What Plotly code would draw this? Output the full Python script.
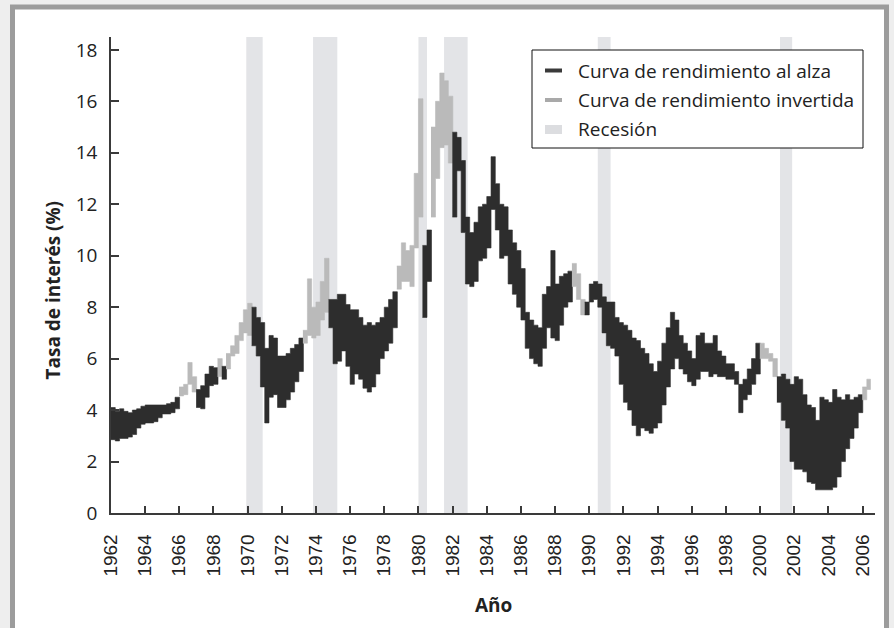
import plotly.graph_objects as go

# Yield-curve band: for each quarter, the upper and lower rate (%) and whether
# the curve was inverted (short rate above long rate) during that quarter.
band_first_year = 1962
band_end = 2006.45

rate_high = [
    4.10, 3.95, 4.05, 3.95,   # 1962
    3.90, 4.00, 4.05, 4.15,   # 1963
    4.20, 4.20, 4.20, 4.20,   # 1964
    4.20, 4.25, 4.30, 4.50,   # 1965
    4.90, 5.00, 5.85, 5.30,   # 1966
    4.80, 4.95, 5.40, 5.70,   # 1967
    5.65, 6.00, 5.70, 6.20,   # 1968
    6.50, 6.90, 7.40, 7.90,   # 1969
    8.15, 8.00, 7.60, 7.40,   # 1970
    6.40, 6.90, 6.80, 6.10,   # 1971
    6.10, 6.20, 6.40, 6.55,   # 1972
    6.80, 7.10, 9.10, 8.00,   # 1973
    8.20, 9.00, 9.90, 8.30,   # 1974
    8.30, 8.50, 8.50, 8.10,   # 1975
    7.90, 7.90, 7.60, 7.30,   # 1976
    7.40, 7.30, 7.40, 7.60,   # 1977
    8.00, 8.30, 8.60, 9.60,   # 1978
    10.50, 10.20, 10.40, 13.20,  # 1979
    16.10, 10.40, 11.00, 15.00,  # 1980
    16.00, 17.10, 16.80, 16.20,  # 1981
    14.80, 14.60, 13.70, 11.50,  # 1982
    10.90, 11.30, 11.90, 12.00,  # 1983
    12.30, 13.85, 12.80, 12.00,  # 1984
    11.90, 11.00, 10.50, 10.20,  # 1985
    9.50, 7.80, 7.50, 7.30,   # 1986
    7.20, 8.50, 8.80, 10.20,  # 1987
    8.90, 9.20, 9.30, 9.40,   # 1988
    9.70, 9.30, 8.30, 8.20,   # 1989
    8.90, 9.00, 8.90, 8.40,   # 1990
    8.20, 8.20, 7.60, 7.40,   # 1991
    7.30, 7.10, 6.80, 6.70,   # 1992
    6.40, 6.20, 5.80, 5.50,   # 1993
    5.90, 6.60, 7.20, 7.80,   # 1994
    7.50, 6.90, 6.60, 6.30,   # 1995
    6.00, 6.90, 7.00, 6.60,   # 1996
    6.60, 6.90, 6.30, 6.10,   # 1997
    5.80, 5.80, 5.50, 5.00,   # 1998
    5.20, 5.60, 6.00, 6.60,   # 1999
    6.60, 6.40, 6.20, 6.00,   # 2000
    5.30, 5.40, 5.20, 5.00,   # 2001
    5.30, 5.20, 4.60, 4.20,   # 2002
    4.10, 3.60, 4.50, 4.40,   # 2003
    4.30, 4.80, 4.50, 4.40,   # 2004
    4.60, 4.40, 4.50, 4.60,   # 2005
    4.90, 5.20,               # 2006
]

rate_low = [
    2.85, 2.80, 2.90, 2.90,   # 1962
    2.95, 3.05, 3.30, 3.45,   # 1963
    3.50, 3.50, 3.55, 3.70,   # 1964
    3.85, 3.85, 3.90, 4.05,   # 1965
    4.55, 4.60, 5.00, 4.70,   # 1966
    4.10, 4.05, 4.50, 4.95,   # 1967
    5.00, 5.30, 5.20, 5.60,   # 1968
    6.10, 6.20, 6.70, 7.00,   # 1969
    6.90, 6.50, 6.10, 4.90,   # 1970
    3.50, 4.50, 4.60, 4.10,   # 1971
    4.10, 4.40, 4.70, 5.10,   # 1972
    5.50, 6.60, 6.90, 6.80,   # 1973
    6.90, 7.50, 7.80, 7.20,   # 1974
    5.80, 5.90, 6.30, 5.70,   # 1975
    5.00, 5.40, 5.20, 4.85,   # 1976
    4.70, 4.90, 5.40, 6.00,   # 1977
    6.30, 6.60, 7.20, 8.70,   # 1978
    9.00, 9.00, 8.80, 10.30,  # 1979
    11.50, 7.60, 9.00, 11.50,  # 1980
    13.00, 14.20, 14.30, 13.60,  # 1981
    11.50, 13.30, 10.90, 8.90,   # 1982
    8.80, 9.00, 9.80, 9.90,   # 1983
    10.30, 11.80, 11.00, 9.90,  # 1984
    10.00, 8.90, 8.50, 8.00,  # 1985
    7.50, 6.40, 6.00, 5.80,   # 1986
    5.70, 6.40, 7.20, 6.80,   # 1987
    6.70, 7.30, 8.00, 8.20,   # 1988
    8.80, 8.30, 7.70, 7.70,   # 1989
    8.20, 8.30, 8.00, 7.00,   # 1990
    6.50, 6.40, 6.10, 5.00,   # 1991
    4.30, 4.00, 3.40, 3.00,   # 1992
    3.30, 3.20, 3.10, 3.30,   # 1993
    3.50, 4.20, 4.90, 5.60,   # 1994
    6.00, 5.60, 5.40, 5.10,   # 1995
    4.95, 5.20, 5.50, 5.50,   # 1996
    5.30, 5.40, 5.30, 5.30,   # 1997
    5.20, 5.20, 5.00, 3.90,   # 1998
    4.40, 4.60, 5.00, 5.40,   # 1999
    6.00, 6.00, 5.90, 5.30,   # 2000
    4.30, 3.60, 3.30, 2.00,   # 2001
    1.70, 1.70, 1.60, 1.20,   # 2002
    1.15, 0.90, 0.90, 0.90,   # 2003
    0.90, 1.00, 1.40, 2.00,   # 2004
    2.50, 2.90, 3.30, 3.90,   # 2005
    4.40, 4.80,               # 2006
]

curve_inverted = [
    0, 0, 0, 0,  # 1962
    0, 0, 0, 0,  # 1963
    0, 0, 0, 0,  # 1964
    0, 0, 0, 0,  # 1965
    1, 1, 1, 1,  # 1966
    0, 0, 0, 0,  # 1967
    0, 1, 0, 1,  # 1968
    1, 1, 1, 1,  # 1969
    1, 0, 0, 0,  # 1970
    0, 0, 0, 0,  # 1971
    0, 0, 0, 0,  # 1972
    0, 1, 1, 1,  # 1973
    1, 1, 1, 0,  # 1974
    0, 0, 0, 0,  # 1975
    0, 0, 0, 0,  # 1976
    0, 0, 0, 0,  # 1977
    0, 0, 0, 1,  # 1978
    1, 1, 1, 1,  # 1979
    1, 0, 0, 1,  # 1980
    1, 1, 1, 1,  # 1981
    0, 0, 0, 0,  # 1982
    0, 0, 0, 0,  # 1983
    0, 0, 0, 0,  # 1984
    0, 0, 0, 0,  # 1985
    0, 0, 0, 0,  # 1986
    0, 0, 0, 0,  # 1987
    0, 0, 0, 0,  # 1988
    1, 1, 1, 0,  # 1989
    0, 0, 0, 0,  # 1990
    0, 0, 0, 0,  # 1991
    0, 0, 0, 0,  # 1992
    0, 0, 0, 0,  # 1993
    0, 0, 0, 0,  # 1994
    0, 0, 0, 0,  # 1995
    0, 0, 0, 0,  # 1996
    0, 0, 0, 0,  # 1997
    0, 0, 0, 0,  # 1998
    0, 0, 0, 0,  # 1999
    1, 1, 1, 1,  # 2000
    0, 0, 0, 0,  # 2001
    0, 0, 0, 0,  # 2002
    0, 0, 0, 0,  # 2003
    0, 0, 0, 0,  # 2004
    0, 0, 0, 0,  # 2005
    1, 1,        # 2006
]

# NBER recessions (decimal years)
recession_start = [1969.92, 1973.83, 1980.00, 1981.50, 1990.50, 2001.17]
recession_end = [1970.88, 1975.25, 1980.50, 1982.88, 1991.25, 2001.88]

year_ticks = list(range(1962, 2007, 2))
rate_ticks = list(range(0, 19, 2))
x_range = [1962, 2006.73]
y_range = [0, 18.5]

legend_labels = ["Curva de rendimiento al alza",
                 "Curva de rendimiento invertida",
                 "Recesión"]
x_title = "Año"
y_title = "Tasa de interés (%)"

# ---- colours / fonts ----
DARK = "#2d2d2d"
LIGHT = "#bababa"
SHADE = "#e3e4e7"
TEXT = "#222222"
AXIS = "#3a3a3a"
SANS = "Open Sans, Lato, sans-serif"
TICK_SANS = "Liberation Sans, Arial, sans-serif"

W, H = 894, 628
ML, MR, MT, MB = 111, 19, 37, 115


def fx(px):
    return (px - ML) / (W - ML - MR)


def fy(py):
    return (H - MB - py) / (H - MT - MB)


# quarter boundaries of the band
n = len(rate_high)
starts = [band_first_year + i / 4 for i in range(n)]
ends = starts[1:] + [band_end]

# split the band into runs of equal slope sign; each run becomes one
# stepped polygon (top edge left→right, bottom edge right→left)
runs = []
i = 0
while i < n:
    j = i
    while j + 1 < n and curve_inverted[j + 1] == curve_inverted[i]:
        j += 1
    runs.append((i, j, curve_inverted[i]))
    i = j + 1

fig = go.Figure()

# recession shading
fig.add_trace(go.Bar(
    x=[(a + b) / 2 for a, b in zip(recession_start, recession_end)],
    y=[y_range[1]] * len(recession_start),
    base=0,
    width=[b - a for a, b in zip(recession_start, recession_end)],
    marker=dict(color=SHADE, line=dict(width=0)),
    name=legend_labels[2], showlegend=False, hoverinfo="skip",
))

pad = 0.015
for a, b, inv in runs:
    xs, ys = [], []
    for k in range(a, b + 1):
        s = starts[k] - (pad if k == a else 0)
        e = ends[k] + (pad if k == b else 0)
        xs += [s, e]
        ys += [rate_high[k], rate_high[k]]
    for k in range(b, a - 1, -1):
        s = starts[k] - (pad if k == a else 0)
        e = ends[k] + (pad if k == b else 0)
        xs += [e, s]
        ys += [rate_low[k], rate_low[k]]
    color = LIGHT if inv else DARK
    fig.add_trace(go.Scatter(
        x=xs, y=ys, mode="lines", fill="toself", fillcolor=color,
        line=dict(color=color, width=0.6),
        name=legend_labels[inv], showlegend=False, hoverinfo="skip",
    ))

shapes = [
    # outer frame
    dict(type="rect", xref="paper", yref="paper", layer="below",
         x0=fx(12.5), x1=fx(886.5), y0=fy(680), y1=fy(7),
         line=dict(color="#9c9c9c", width=5), fillcolor="white"),
    # legend box
    dict(type="rect", xref="paper", yref="paper", layer="above",
         x0=fx(532), x1=fx(863), y0=fy(148), y1=fy(50),
         line=dict(color="#111111", width=1), fillcolor="white"),
    dict(type="line", xref="paper", yref="paper", layer="above",
         x0=fx(545), x1=fx(562), y0=fy(70.5), y1=fy(70.5),
         line=dict(color="#3a3a3a", width=4)),
    dict(type="line", xref="paper", yref="paper", layer="above",
         x0=fx(545), x1=fx(562), y0=fy(100), y1=fy(100),
         line=dict(color="#a9a9a9", width=4)),
    dict(type="rect", xref="paper", yref="paper", layer="above",
         x0=fx(545), x1=fx(562), y0=fy(134), y1=fy(125),
         line=dict(width=0), fillcolor="#dcdde0"),
]

annotations = []
for label, py in zip(legend_labels, [71, 100.5, 129]):
    annotations.append(dict(
        text=label, xref="paper", yref="paper", x=fx(576), y=fy(py),
        xanchor="left", yanchor="middle", showarrow=False,
        font=dict(family=SANS, size=19, color=TEXT)))

annotations.append(dict(
    text=y_title, xref="paper", yref="paper", x=fx(52), y=fy(290.5),
    xanchor="center", yanchor="middle", textangle=-90, showarrow=False,
    font=dict(family=SANS, size=19, color=TEXT, weight="bold")))
annotations.append(dict(
    text=x_title, xref="paper", yref="paper", x=fx(493), y=fy(605),
    xanchor="center", yanchor="middle", showarrow=False,
    font=dict(family=SANS, size=19, color=TEXT, weight="bold")))

fig.update_layout(
    width=W, height=H,
    margin=dict(l=ML, r=MR, t=MT, b=MB, pad=0),
    paper_bgcolor="#eeeeee",
    plot_bgcolor="rgba(0,0,0,0)",
    barmode="overlay",
    showlegend=False,
    shapes=shapes,
    annotations=annotations,
    xaxis=dict(
        range=x_range, tickmode="array", tickvals=year_ticks,
        ticktext=[str(v) for v in year_ticks], tickangle=-90,
        ticks="inside", ticklen=7, tickwidth=1.5, tickcolor=AXIS,
        showline=True, linecolor=AXIS, linewidth=1.5,
        showgrid=False, zeroline=False, ticklabelstandoff=12,
        tickfont=dict(family=TICK_SANS, size=19, color=TEXT),
    ),
    yaxis=dict(
        range=y_range, tickmode="array", tickvals=rate_ticks,
        ticks="inside", ticklen=8, tickwidth=1.5, tickcolor=AXIS,
        showline=True, linecolor=AXIS, linewidth=1.5,
        showgrid=False, zeroline=False, ticklabelstandoff=8,
        tickfont=dict(family=SANS, size=19, color=TEXT),
    ),
)

fig.write_html("out.html")
